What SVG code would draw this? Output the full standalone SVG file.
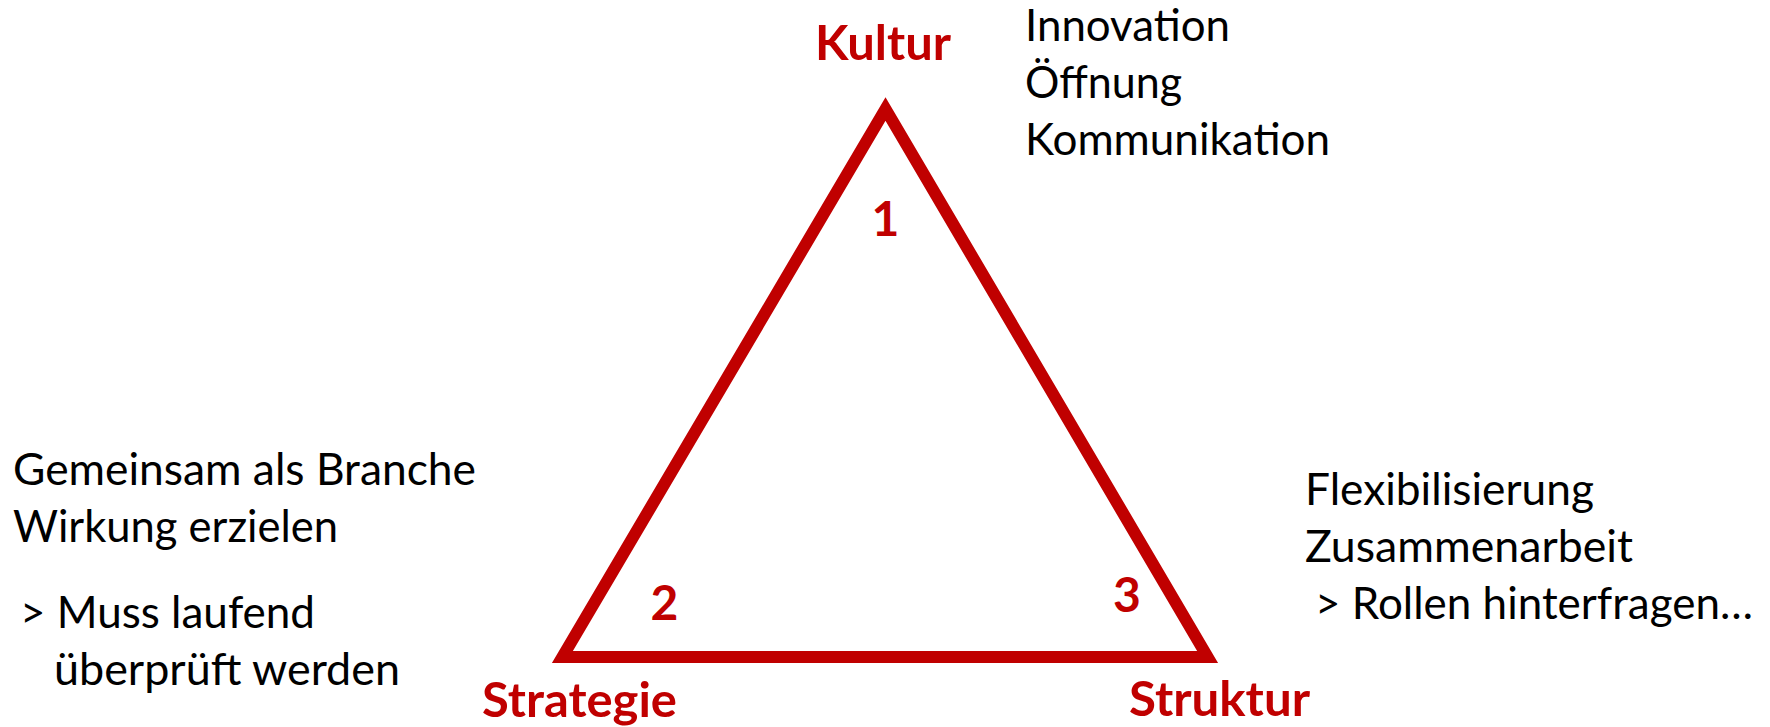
<svg xmlns="http://www.w3.org/2000/svg" width="1770" height="727" viewBox="0 0 1770 727">
<style>
  .lbl { font-family: Lato, "Liberation Sans", sans-serif; font-weight: bold; font-size: 48px; fill: #C00000; }
  .txt { font-family: Lato, "Liberation Sans", sans-serif; font-size: 44px; fill: #000000; }
  .tri { fill: none; stroke: #C00000; stroke-width: 12; stroke-linejoin: miter; stroke-miterlimit: 10; }
</style>
<rect width="1770" height="727" fill="#FFFFFF"/>
<g id="triangle">
  <polygon class="tri" points="885.5,109 1207.6,657 562.4,657"/>
</g>
<g id="kultur">
  <text class="lbl" x="815" y="60" textLength="136" lengthAdjust="spacingAndGlyphs">Kultur</text>
  <text class="lbl" x="885.5" y="236" text-anchor="middle">1</text>
</g>
<g id="strategie">
  <text class="lbl" x="482" y="717" textLength="195" lengthAdjust="spacingAndGlyphs">Strategie</text>
  <text class="lbl" x="664.5" y="620" text-anchor="middle">2</text>
</g>
<g id="struktur">
  <text class="lbl" x="1129" y="716" textLength="181" lengthAdjust="spacingAndGlyphs">Struktur</text>
  <text class="lbl" x="1127" y="612" text-anchor="middle">3</text>
</g>
<g id="kultur-notes">
  <text class="txt" x="1025" y="41" textLength="205" lengthAdjust="spacingAndGlyphs">Innovation</text>
  <text class="txt" x="1025" y="98" textLength="157" lengthAdjust="spacingAndGlyphs">Öffnung</text>
  <text class="txt" x="1025" y="155" textLength="305" lengthAdjust="spacingAndGlyphs">Kommunikation</text>
</g>
<g id="strategie-notes">
  <text class="txt" x="13" y="485" textLength="463" lengthAdjust="spacingAndGlyphs">Gemeinsam als Branche</text>
  <text class="txt" x="13" y="542" textLength="325" lengthAdjust="spacingAndGlyphs">Wirkung erzielen</text>
  <text class="txt" x="20" y="628" textLength="295" lengthAdjust="spacingAndGlyphs">&gt; Muss laufend</text>
  <text class="txt" x="54" y="685" textLength="346" lengthAdjust="spacingAndGlyphs">überprüft werden</text>
</g>
<g id="struktur-notes">
  <text class="txt" x="1305" y="505" textLength="289" lengthAdjust="spacingAndGlyphs">Flexibilisierung</text>
  <text class="txt" x="1305" y="562" textLength="328" lengthAdjust="spacingAndGlyphs">Zusammenarbeit</text>
  <text class="txt" x="1315" y="619" textLength="438" lengthAdjust="spacingAndGlyphs">&gt; Rollen hinterfragen…</text>
</g>
</svg>
